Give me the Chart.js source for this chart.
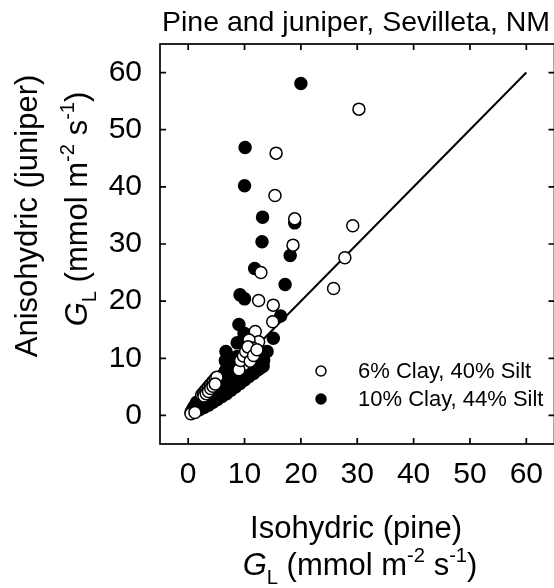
<!DOCTYPE html>
<html>
<head>
<meta charset="utf-8">
<title>Pine and juniper, Sevilleta, NM</title>
<script src="https://cdn.jsdelivr.net/npm/chart.js@4/dist/chart.umd.min.js"></script>
<style>
    html, body { margin: 0; padding: 0; background: #fff; overflow: hidden; }
    #wrap { width: 562px; height: 588px; }
</style>
</head>
<body>
<div id="wrap"><canvas id="chart" width="562" height="588"></canvas></div>
<script>
// 데이터
const TICKS = [0, 10, 20, 30, 40, 50, 60];
const ONE_TO_ONE = [0, 60];

// 6% Clay, 40% Silt (빈 원)
const clay6X = [30.3, 15.6, 15.4, 18.9, 29.2, 18.6, 27.8, 12.9, 25.8, 12.5, 15.1, 15.0, 11.9, 12.5, 10.8, 11.5, 10.5, 11.3, 9.9, 9.0,
    9.3, 9.8, 10.2, 10.6, 11.0, 11.6, 12.2,
    0.5, 1.2, 2.4, 2.7, 3.0, 3.3, 3.6, 3.9, 4.2, 4.5, 4.8, 5.1, 2.8, 3.2, 3.6, 4.0, 4.4, 4.8];
const clay6Y = [53.6, 45.9, 38.5, 34.4, 33.2, 29.8, 27.6, 25.0, 22.2, 20.1, 19.3, 16.4, 14.7, 12.9, 13.2, 11.8, 10.3, 9.9, 8.9, 8.0,
    9.6, 10.4, 11.2, 12.0, 9.5, 10.5, 11.5,
    0.3, 0.5, 3.6, 3.9, 4.3, 4.6, 5.0, 5.3, 5.7, 6.0, 6.4, 6.7, 3.4, 3.8, 4.2, 4.7, 5.1, 5.5];

// 10% Clay, 44% Silt (채운 원)
const clay10X = [20.0, 10.1, 10.0, 13.2, 18.9, 13.1, 18.1, 11.8, 17.2, 9.2, 10.0, 16.4, 9.0, 9.9, 15.1, 8.7, 14.0, 6.7, 8.7, 13.4, 6.7, 12.8, 11.6,
    0.5, 1.2, 2.0, 2.8, 3.6, 4.4, 5.2, 6.0, 6.8, 7.6, 8.4, 9.2, 10.0, 10.8, 11.6, 12.4, 13.3,
    0.8, 1.6, 2.4, 3.2, 4.0, 4.8, 5.6, 6.4, 7.2, 8.0, 8.8, 9.6, 10.4, 11.2, 12.0,
    1.1, 1.9, 2.7, 3.5, 4.3, 5.1, 5.9, 6.7, 7.5, 8.3, 9.1, 9.9, 10.7,
    1.5, 2.3, 3.1, 3.9, 4.7, 5.5, 6.3, 7.1, 7.9, 8.7,
    5.8, 6.2, 6.6, 7.0, 7.4, 6.6, 8.0];
const clay10Y = [58.1, 46.9, 40.2, 34.7, 33.7, 30.4, 28.0, 25.7, 22.9, 21.1, 20.4, 17.4, 15.9, 14.4, 13.5, 12.7, 11.2, 11.2, 10.3, 9.7, 9.4, 8.3, 7.4,
    0.6, 0.7, 1.0, 1.4, 1.8, 2.3, 2.8, 3.3, 3.8, 4.4, 5.0, 5.6, 6.2, 6.8, 7.4, 8.0, 8.6,
    1.1, 1.4, 1.8, 2.3, 2.8, 3.3, 3.8, 4.4, 5.0, 5.6, 6.2, 6.8, 7.4, 8.0, 8.6,
    1.6, 2.1, 2.6, 3.1, 3.7, 4.3, 4.9, 5.5, 6.1, 6.8, 7.4, 8.0, 8.6,
    2.3, 2.9, 3.5, 4.1, 4.8, 5.5, 6.2, 6.9, 7.6, 8.2,
    6.4, 7.1, 7.8, 8.5, 9.2, 9.6, 10.0];

const FONT = '"Liberation Sans", Arial, Helvetica, sans-serif';

function toPoints(xs, ys) {
    return xs.map((v, i) => ({ x: v, y: ys[i] }));
}

// 위/아래 첨자가 있는 글자 그리기
function richText(ctx, parts, size, x, y, rotate) {
    ctx.save();
    ctx.translate(x, y);
    if (rotate) ctx.rotate(-Math.PI / 2);
    let total = 0;
    const fonts = parts.map(p => {
        const s = (p.sub || p.sup) ? size * 0.65 : size;
        const f = (p.italic ? 'italic ' : '') + s + 'px ' + FONT;
        ctx.font = f;
        const w = ctx.measureText(p.t).width;
        total += w;
        return { f, w };
    });
    let cx = -total / 2;
    ctx.fillStyle = '#000';
    ctx.textAlign = 'left';
    ctx.textBaseline = 'alphabetic';
    parts.forEach((p, i) => {
        ctx.font = fonts[i].f;
        const dy = p.sup ? -size * 0.42 : (p.sub ? size * 0.3 : 0);
        ctx.fillText(p.t, cx, dy);
        cx += fonts[i].w;
    });
    ctx.restore();
}

const GL_UNITS = [
    { t: 'G', italic: true }, { t: 'L', sub: true }, { t: ' (mmol m' }, { t: '-2', sup: true },
    { t: ' s' }, { t: '-1', sup: true }, { t: ')' }
];

const framePlugin = {
    id: 'frame',
    beforeDatasetsDraw(chart) {
        const { ctx, chartArea: a, scales: { x, y } } = chart;
        ctx.save();
        ctx.strokeStyle = '#000';
        ctx.lineWidth = 1.7;
        ctx.strokeRect(a.left, a.top, a.right - a.left, a.bottom - a.top);
        ctx.beginPath();
        TICKS.forEach(v => {
            const px = x.getPixelForValue(v);
            ctx.moveTo(px, a.bottom); ctx.lineTo(px, a.bottom - 6);
            ctx.moveTo(px, a.top); ctx.lineTo(px, a.top + 6);
            const py = y.getPixelForValue(v);
            ctx.moveTo(a.left, py); ctx.lineTo(a.left + 6, py);
            ctx.moveTo(a.right, py); ctx.lineTo(a.right - 6, py);
        });
        ctx.stroke();
        ctx.restore();
    },
    afterDraw(chart) {
        const ctx = chart.ctx;
        ctx.save();
        ctx.fillStyle = '#000';
        ctx.textAlign = 'center';
        ctx.textBaseline = 'alphabetic';
        ctx.font = '28.5px ' + FONT;
        ctx.fillText('Pine and juniper, Sevilleta, NM', 356, 31);

        // x축 제목
        ctx.font = '31px ' + FONT;
        ctx.fillText('Isohydric (pine)', 356, 538);
        richText(ctx, GL_UNITS, 31, 360, 575, false);

        // y축 제목
        richText(ctx, [{ t: 'Anisohydric (juniper)' }], 31, 37, 216, true);
        richText(ctx, GL_UNITS, 31, 87, 209, true);

        // 범례
        ctx.font = '22px ' + FONT;
        ctx.textAlign = 'left';
        ctx.textBaseline = 'middle';
        const rows = [chart.data.datasets[0], chart.data.datasets[1]];
        rows.forEach((ds, i) => {
            const cy = 371 + i * 28;
            ctx.beginPath();
            ctx.arc(321, cy, 5, 0, Math.PI * 2);
            ctx.fillStyle = ds.backgroundColor;
            ctx.fill();
            ctx.lineWidth = 1.5;
            ctx.strokeStyle = '#000';
            ctx.stroke();
            ctx.fillStyle = '#000';
            ctx.fillText(ds.label, 358, cy + 1);
        });
        ctx.restore();
    }
};

new Chart(document.getElementById('chart'), {
    type: 'scatter',
    data: {
        datasets: [
            {
                label: '6% Clay, 40% Silt',
                data: toPoints(clay6X, clay6Y),
                backgroundColor: '#ffffff',
                borderColor: '#000000',
                borderWidth: 1.5,
                pointRadius: 6,
                order: 0
            },
            {
                label: '10% Clay, 44% Silt',
                data: toPoints(clay10X, clay10Y),
                backgroundColor: '#000000',
                borderColor: '#000000',
                borderWidth: 1.5,
                pointRadius: 6,
                order: 1
            },
            {
                label: '1:1',
                type: 'line',
                data: toPoints(ONE_TO_ONE, ONE_TO_ONE),
                borderColor: '#000000',
                borderWidth: 2,
                pointRadius: 0,
                fill: false,
                order: 2
            }
        ]
    },
    options: {
        responsive: false,
        animation: false,
        devicePixelRatio: 1,
        layout: { padding: { top: 44, right: 1, bottom: 0, left: 0 } },
        plugins: {
            legend: { display: false },
            tooltip: { enabled: false },
            title: { display: false }
        },
        scales: {
            x: {
                type: 'linear',
                min: -5,
                max: 65,
                grid: { display: false, drawTicks: false },
                border: { display: false },
                afterBuildTicks: s => { s.ticks = TICKS.map(v => ({ value: v })); },
                afterFit: s => { s.height = 144; },
                ticks: { color: '#000', padding: 13, maxRotation: 0, font: { family: FONT, size: 30 } }
            },
            y: {
                type: 'linear',
                min: -5,
                max: 65,
                grid: { display: false, drawTicks: false },
                border: { display: false },
                afterBuildTicks: s => { s.ticks = TICKS.map(v => ({ value: v })); },
                afterFit: s => { s.width = 160; },
                ticks: { color: '#000', padding: 18, font: { family: FONT, size: 30 } }
            }
        }
    },
    plugins: [framePlugin]
});
</script>
</body>
</html>
